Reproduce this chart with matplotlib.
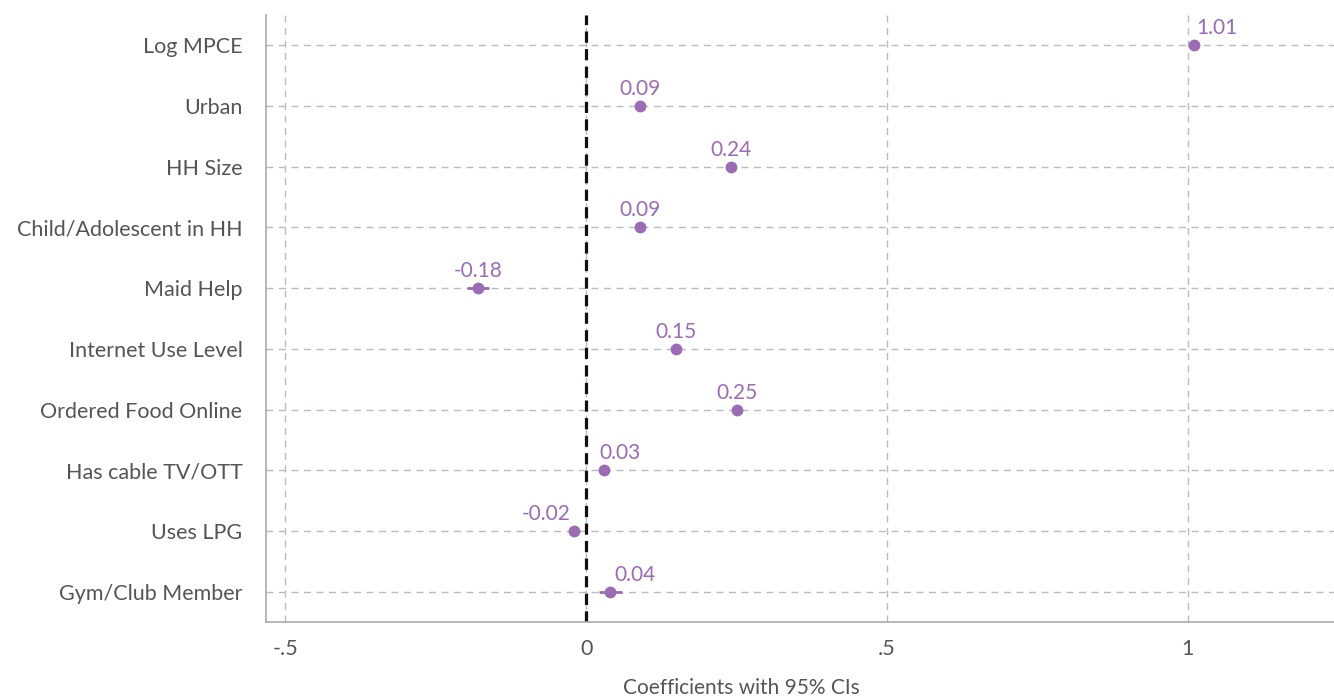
import numpy as np
import matplotlib
matplotlib.use("Agg")
from matplotlib import pyplot as plt

# coefficientes e intervalos de 95%
variaveis = ["Log MPCE", "Urban", "HH Size", "Child/Adolescent in HH", "Maid Help",
             "Internet Use Level", "Ordered Food Online", "Has cable TV/OTT",
             "Uses LPG", "Gym/Club Member"]
coef = [1.01, 0.09, 0.24, 0.09, -0.18, 0.15, 0.25, 0.03, -0.02, 0.04]
ci_low = [1.003, 0.083, 0.233, 0.082, -0.198, 0.143, 0.243, 0.023, -0.027, 0.021]
ci_high = [1.017, 0.097, 0.247, 0.098, -0.162, 0.157, 0.257, 0.037, -0.013, 0.059]
xticks = [-0.5, 0, 0.5, 1]
xticklabels = ["-.5", "0", ".5", "1"]

plt.rcParams['font.family'] = ['Lato', 'DejaVu Sans']
roxo = "#9b6bb3"
cinza = "#555555"

fig = plt.figure(figsize=(13.34, 6.98), dpi=100)
ax = fig.add_axes([0.1994, 0.1089, 0.8006, 0.8696])

y = np.arange(1, len(variaveis) + 1)
coef = np.array(coef)
erro = [coef - np.array(ci_low), np.array(ci_high) - coef]

ax.axvline(0, color="#111111", lw=2.3, ls=(0, (3.5, 2)), zorder=2)
ax.errorbar(coef, y, xerr=erro, fmt="o", color=roxo, ms=7.5, elinewidth=2,
            capsize=0, zorder=3)

# rótulos: centralizados, exceto os que encostam na linha do zero
ajuste = {"1.01": (2, "left"), "0.03": (-5, "left"),
          "-0.02": (-3, "right"), "0.04": (4, "left")}
for xi, yi in zip(coef, y):
    txt = f"{xi:.2f}"
    dx, ha = ajuste.get(txt, (0, "center"))
    ax.annotate(txt, (xi, yi), xytext=(dx, 7), textcoords="offset pixels",
                color=roxo, fontsize=15, ha=ha, va="bottom")

ax.set_xlim(-0.532, 1.243)
ax.set_ylim(10.5, 0.5)
ax.set_yticks(y)
ax.set_yticklabels(variaveis, fontsize=15.5, color=cinza)
ax.set_xticks(xticks)
ax.set_xticklabels(xticklabels, fontsize=15.5, color=cinza)
ax.tick_params(axis="x", length=0, pad=12)
ax.tick_params(axis="y", length=0, pad=17)

ax.grid(True, color="#b4bcc4", ls=(0, (5, 4)), lw=1)
ax.set_axisbelow(True)
for lado in ["top", "right"]:
    ax.spines[lado].set_visible(False)
for lado in ["left", "bottom"]:
    ax.spines[lado].set_color("#aaaaaa")
    ax.spines[lado].set_linewidth(1.2)

fig.text(741 / 1334, 1 - 688 / 698, "Coefficients with 95% CIs", fontsize=15,
         color=cinza, ha="center", va="center")

plt.savefig("out.png", dpi=100)
